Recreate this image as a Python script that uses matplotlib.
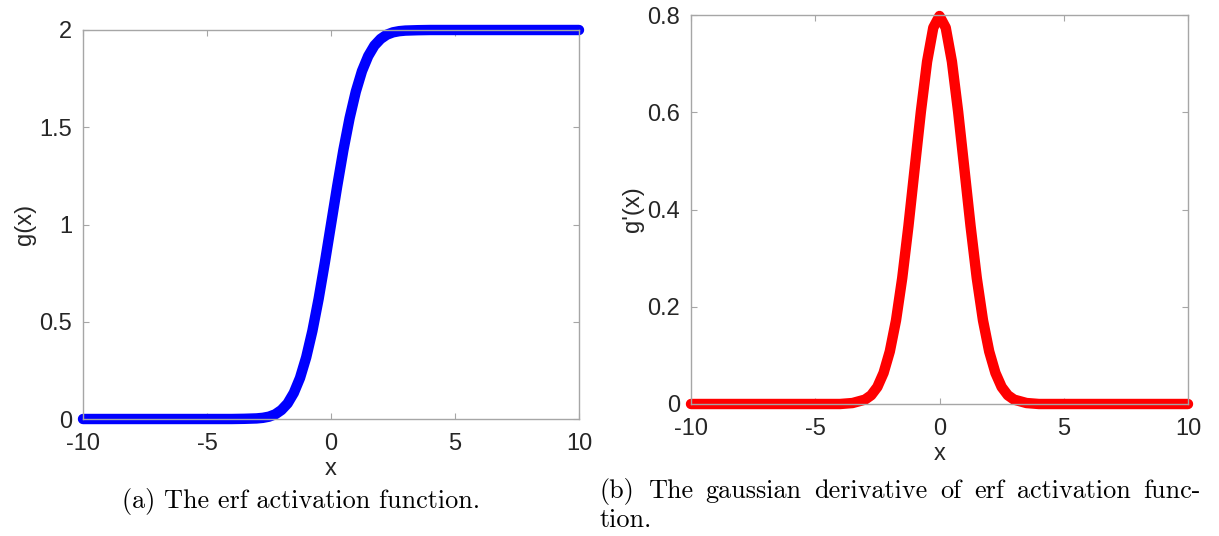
import matplotlib
matplotlib.use("Agg")
import matplotlib.pyplot as plt

# values
x = [-10, -6, -4, -3.5, -3, -2.75, -2.5, -2.25, -2, -1.75, -1.5, -1.25, -1, -0.75, -0.5, -0.25,
     0, 0.25, 0.5, 0.75, 1, 1.25, 1.5, 1.75, 2, 2.25, 2.5, 2.75, 3, 3.5, 4, 6, 10]
g = [0.0, 0.0, 0.0, 0.001, 0.003, 0.006, 0.012, 0.024, 0.046, 0.080, 0.134, 0.211, 0.317, 0.453, 0.617, 0.803,
     1.0, 1.197, 1.383, 1.547, 1.683, 1.789, 1.866, 1.920, 1.954, 1.976, 1.988, 1.994, 1.997, 1.999, 2.0, 2.0, 2.0]
gp = [0.0, 0.0, 0.0, 0.002, 0.009, 0.018, 0.035, 0.064, 0.108, 0.172, 0.259, 0.366, 0.484, 0.601, 0.704, 0.774,
      0.798, 0.774, 0.704, 0.601, 0.484, 0.366, 0.259, 0.172, 0.108, 0.064, 0.035, 0.018, 0.009, 0.002, 0.0, 0.0, 0.0]

xticks = [-10, -5, 0, 5, 10]
xticklabels = ["-10", "-5", "0", "5", "10"]
g_ticks = [0, 0.5, 1, 1.5, 2]
g_ticklabels = ["0", "0.5", "1", "1.5", "2"]
gp_ticks = [0, 0.2, 0.4, 0.6, 0.8]
gp_ticklabels = ["0", "0.2", "0.4", "0.6", "0.8"]

caption_a = "(a) The erf activation function."
caption_b1 = ["(b)", "The", "gaussian", "derivative", "of", "erf", "activation", "func-"]
caption_b2 = "tion."

plt.rcParams["font.family"] = ["Liberation Sans", "DejaVu Sans"]
plt.rcParams["axes.unicode_minus"] = False

W, H = 1219, 536
fig = plt.figure(figsize=(W / 100, H / 100), dpi=100)

frame = "#a6a6a6"
txt = "#262626"
fs = 17


def style(ax, ticks, labels, ylabel, ylim):
    ax.set_xlim(-10, 10)
    ax.set_ylim(*ylim)
    ax.set_xticks(xticks)
    ax.set_xticklabels(xticklabels)
    ax.set_yticks(ticks)
    ax.set_yticklabels(labels)
    for s in ax.spines.values():
        s.set_color(frame)
        s.set_linewidth(1.0)
    ax.tick_params(direction="in", top=True, right=True, length=4, width=0.8,
                   colors=frame, labelcolor=txt, labelsize=fs)
    ax.tick_params(axis="x", pad=10)
    ax.tick_params(axis="y", pad=8)
    ax.set_xlabel("x", fontsize=fs, color=txt, labelpad=2)
    ax.set_ylabel(ylabel, fontsize=fs, color=txt, labelpad=2)


ax1 = fig.add_axes([83 / W, 1 - 419 / H, 496 / W, 389 / H])
ax1.plot(x, g, color="#0000ff", lw=7.5, solid_capstyle="round", solid_joinstyle="round", clip_on=False)
style(ax1, g_ticks, g_ticklabels, "g(x)", (0, 2))

ax2 = fig.add_axes([691 / W, 1 - 404 / H, 497 / W, 389 / H])
ax2.plot(x, gp, color="#ff0000", lw=7.5, solid_capstyle="round", solid_joinstyle="round", clip_on=False)
style(ax2, gp_ticks, gp_ticklabels, "g'(x)", (0, 0.8))

r = fig.canvas.get_renderer()

# caption (a), size fitted to the width seen in the picture
cap = dict(fontfamily="cmr10", color="black", va="baseline")
ta = fig.text(301 / W, 1 - 508 / H, caption_a, ha="center", fontsize=15, **cap)
w15 = ta.get_window_extent(r).width
cfs = 15 * 358 / w15
ta.set_fontsize(cfs)

# justified first line of caption (b)
x0, x1 = 600, 1201
words = [fig.text(x0 / W, 1 - 498 / H, w, ha="left", fontsize=cfs, **cap) for w in caption_b1]
widths = [t.get_window_extent(r).width for t in words]
gap = (x1 - x0 - sum(widths)) / (len(words) - 1)
pos = x0
for t, w in zip(words, widths):
    t.set_x(pos / W)
    pos += w + gap
fig.text(x0 / W, 1 - 527 / H, caption_b2, ha="left", fontsize=cfs, **cap)

fig.savefig("out.png", dpi=100)
